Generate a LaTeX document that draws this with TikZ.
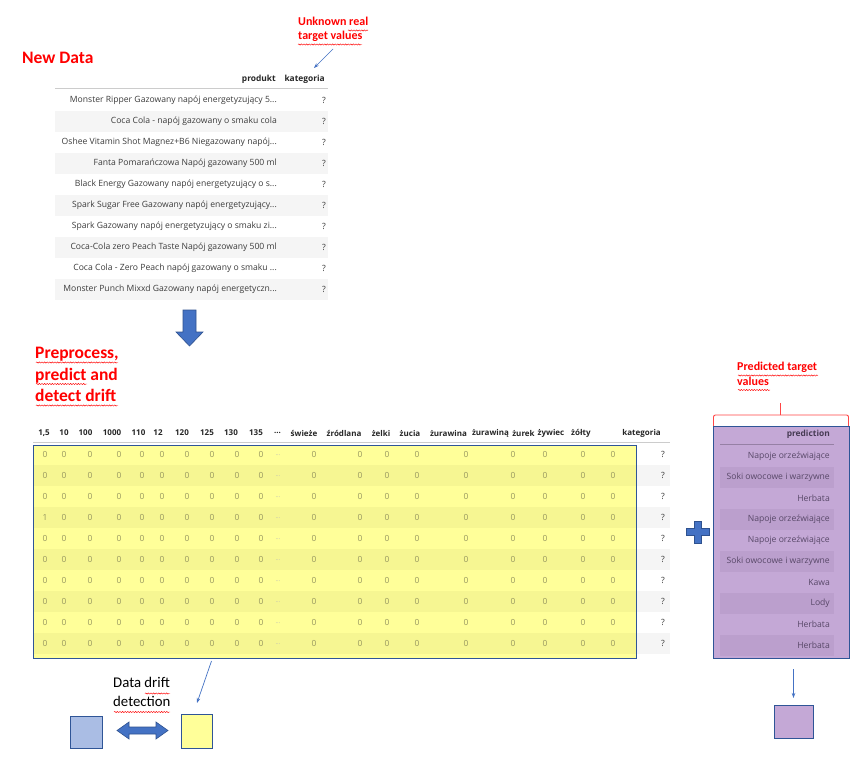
\documentclass[tikz,border=0pt]{standalone}
\usepackage{fontspec}
\setmainfont{Carlito}
\newfontfamily\tabfont{Open Sans}
\usetikzlibrary{arrows.meta,decorations.pathmorphing}
\definecolor{tred}{RGB}{255,0,0}
\definecolor{bred}{RGB}{255,70,70}
\definecolor{ablue}{RGB}{68,114,196}
\definecolor{aedge}{RGB}{47,82,143}
\definecolor{bedge}{RGB}{47,85,151}
\definecolor{yelA}{RGB}{255,255,153}
\definecolor{yelB}{RGB}{246,246,146}
\definecolor{purA}{RGB}{196,168,214}
\definecolor{purB}{RGB}{187,159,205}
\definecolor{purT}{RGB}{88,72,104}
\definecolor{purL}{RGB}{150,128,165}
\definecolor{lblue}{RGB}{170,189,228}
\definecolor{rowgray}{RGB}{245,245,245}
\definecolor{valc}{RGB}{150,150,95}
\definecolor{txtc}{RGB}{60,60,60}
\def\tdots{.\kern0pt.\kern0pt.}
\begin{document}
\begin{tikzpicture}[x=1pt,y=-1pt,
  redlbl/.style={inner sep=0pt, text=tred, align=left, anchor=north west},
  cell/.style={inner sep=0pt, anchor=east, text=txtc, font=\tabfont\fontsize{8.6}{10}\selectfont},
  hcell/.style={inner sep=0pt, text=black!85, font=\tabfont\bfseries\fontsize{8.4}{10}\selectfont},
  bhcell/.style={inner sep=0pt, text=black!85, font=\tabfont\bfseries\fontsize{8}{10}\selectfont},
  vcell/.style={inner sep=0pt, text=valc, font=\tabfont\fontsize{8.4}{10}\selectfont},
  pcell/.style={inner sep=0pt, anchor=east, text=purT, font=\tabfont\fontsize{8.6}{10}\selectfont},
  thinarrow/.style={draw=ablue, line width=0.7pt, -{Stealth[length=5pt,width=3.5pt]}},
  bigarrow/.style={fill=ablue, draw=aedge, line width=0.6pt},
  wavy/.style={draw=red, line width=0.45pt, decorate, decoration={snake, amplitude=0.6pt, segment length=2.6pt}},
  square/.style={draw=bedge, line width=0.9pt}
]
\useasboundingbox[fill=white] (0,0) rectangle (868,763);

% ---------- labels ----------
\node[redlbl, anchor=west, font=\bfseries\fontsize{17.5}{21}\selectfont] (newdata) at (22,58) {New Data};
\node[redlbl, font=\bfseries\fontsize{12}{14}\selectfont] (unk) at (298,17) {Unknown real\\target values};
\draw[wavy] (348,30.5) -- (368,30.5);
\draw[wavy] (298,44.5) -- (362,44.5);

\node[redlbl, font=\bfseries\fontsize{17.5}{21.5}\selectfont] (prep) at (35,347) {Preprocess,\\predict and\\detect drift};
\draw[wavy] (36,362.5) -- (118,362.5);
\draw[wavy] (36,384) -- (87,384);
\draw[wavy] (36,405.5) -- (118,405.5);

% ---------- top table ----------
\node[hcell, anchor=east] (hprod) at (276,79) {produkt};
\node[hcell, anchor=east] (hkat) at (325,79) {kategoria};
\draw[gray!40, line width=0.8pt] (55,88) -- (328,88);
\foreach \i/\t in {1/{Monster Ripper Gazowany napój energetyzujący 5\tdots},
                   2/{Coca Cola - napój gazowany o smaku cola},
                   3/{Oshee Vitamin Shot Magnez+B6 Niegazowany napój\tdots},
                   4/{Fanta Pomarańczowa Napój gazowany 500 ml},
                   5/{Black Energy Gazowany napój energetyzujący o s\tdots},
                   6/{Spark Sugar Free Gazowany napój energetyzujący\tdots},
                   7/{Spark Gazowany napój energetyzujący o smaku zi\tdots},
                   8/{Coca-Cola zero Peach Taste Napój gazowany 500 ml},
                   9/{Coca Cola - Zero Peach napój gazowany o smaku \tdots},
                   10/{Monster Punch Mixxd Gazowany napój energetyczn\tdots}}{
  \pgfmathsetmacro\yy{100+21*(\i-1)}
  \ifodd\i\else\fill[rowgray] (55,\yy-10.5) rectangle (328,\yy+10.5);\fi
  \node[cell] (pr\i) at (277,\yy) {\t};
  \node[cell] (pk\i) at (326,\yy) {?};
}
\coordinate (ua) at (333,49);
\coordinate (ub) at (314,68);
\draw[thinarrow] (ua) -- (ub);

% ---------- down arrow ----------
\draw[bigarrow] (183,310) -- (196,310) -- (196,332) -- (203,332) -- (189.5,346) -- (176,332) -- (183,332) -- cycle;

% ---------- big table ----------
\draw[gray!40, line width=0.8pt] (33,442) -- (670,442);
\foreach \x/\t in {44/{1,5},64/10,85.5/100,112/1000,138.5/110,158/12,182/120,207/125,231/130,256/135,277.5/\tdots,304/świeże,344/źródlana,381/żelki,410/żucia,448.5/żurawina,490.5/żurawiną,523.5/żurek,551/żywiec,581/żółty}{
  \node[bhcell] (hc\x) at (\x,433) {\t};
}
\node[bhcell, anchor=east] (hkat2) at (661,433) {kategoria};
\fill[yelA] (33,445) rectangle (636,658);
\foreach \r in {1,...,10}{
  \pgfmathsetmacro\yy{454+21*(\r-1)}
  \ifodd\r\else
    \fill[yelB] (33,\yy-10.5) rectangle (636,\yy+10.5);
    \fill[rowgray] (636,\yy-10.5) rectangle (670,\yy+10.5);
  \fi
  \foreach[count=\c] \x in {45,64,90,119,142,162,187,212,237,261,314,360,387,417,466,513,545,583,613}{
    \node[vcell] (v\r-\c) at (\x,\yy) {\ifnum\r=4 \ifnum\c=1 1\else 0\fi\else 0\fi};
  }
  \node[vcell, text=gray!55, font=\tabfont\fontsize{6}{7}\selectfont] (dots\r) at (278,\yy+1.5) {\tdots};
  \node[cell] (q\r) at (665,\yy) {?};
}
\draw[bedge, line width=1pt] (33,445) rectangle (636,658);

% ---------- plus ----------
\draw[bigarrow] (694,521) -- (701,521) -- (701,528.5) -- (709,528.5) -- (709,535.5) -- (701,535.5) -- (701,543) -- (694,543) -- (694,535.5) -- (686,535.5) -- (686,528.5) -- (694,528.5) -- cycle;

% ---------- prediction table ----------
\node[redlbl, font=\bfseries\fontsize{12}{15}\selectfont] (predlbl) at (737,362) {Predicted target\\values};
\draw[wavy] (738,375.5) -- (818,375.5);
\draw[wavy] (738,390) -- (770,390);
\draw[bred, line width=0.9pt, rounded corners=2pt] (713.5,427) -- (713.5,415) -- (848.5,415) -- (848.5,427);
\draw[bred, line width=0.9pt] (780,415) -- (780,403);

\fill[purA] (713,426) rectangle (849,658);
\node[hcell, anchor=east, text=purT!80!black] (hpred) at (830,434) {prediction};
\draw[purL, line width=0.8pt] (720,444) -- (834,444);
\foreach \i/\t in {1/{Napoje orzeźwiające},2/{Soki owocowe i warzywne},3/Herbata,4/{Napoje orzeźwiające},5/{Napoje orzeźwiające},6/{Soki owocowe i warzywne},7/Kawa,8/Lody,9/Herbata,10/Herbata}{
  \pgfmathsetmacro\yy{456+21*(\i-1)}
  \ifodd\i\else\fill[purB] (720,\yy-10.5) rectangle (834,\yy+10.5);\fi
  \node[pcell] (pv\i) at (830,\yy) {\t};
}
\draw[bedge, line width=1pt] (713,426) rectangle (849,658);

% ---------- bottom ----------
\node[square, fill=purA, minimum width=39pt, minimum height=33pt, inner sep=0pt] (psq) at (793.5,721.5) {};
\coordinate (pa) at (793.5,669);
\draw[thinarrow] (pa) -- (psq.north |- 0,698);

\node[square, fill=lblue, minimum width=32pt, minimum height=32pt, inner sep=0pt] (bsq) at (86,732) {};
\node[square, fill=yelA, minimum width=31pt, minimum height=34pt, inner sep=0pt] (ysq) at (196.5,731) {};
\coordinate (ya) at (211.5,661);
\coordinate (yb) at (197,703);
\draw[thinarrow] (ya) -- (yb);

\draw[bigarrow] (117,730.5) -- (129,722) -- (129,727) -- (156,727) -- (156,722) -- (168,730.5) -- (156,739) -- (156,734) -- (129,734) -- (129,739) -- cycle;

\node[inner sep=0pt, align=left, anchor=north west, text=black, font=\fontsize{14.8}{19}\selectfont] (ddd) at (113,677.5) {Data drift\\detection};
\draw[wavy] (145,693.5) -- (170,693.5);
\draw[wavy] (114,712) -- (170,712);
\end{tikzpicture}
\end{document}
